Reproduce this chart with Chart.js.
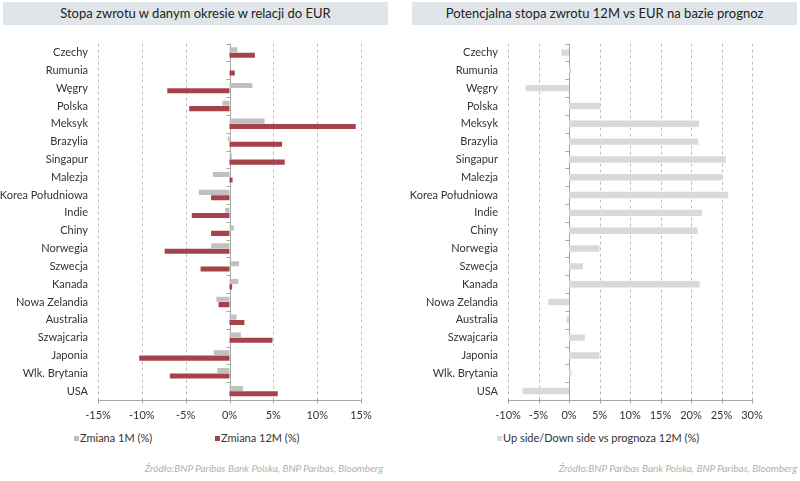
<!DOCTYPE html>
<html>
<head>
<meta charset="utf-8">
<script src="https://cdn.jsdelivr.net/npm/chart.js@4/dist/chart.umd.min.js"></script>
<style>
    body { margin: 0; width: 800px; height: 481px; background: #fff; position: relative; overflow: hidden; font-family: Lato, 'Noto Sans', sans-serif; }
    .title { position: absolute; top: 2px; height: 23px; line-height: 23px; background: #dfe5e8; color: #222; font-size: 13px; text-align: center; }
    .chartBox { position: absolute; top: 27px; width: 400px; height: 395px; }
    .legend { position: absolute; top: 431px; font-size: 11px; color: #333; white-space: nowrap; }
    .legend span.sq { display: inline-block; width: 5px; height: 5px; margin-right: 1px; vertical-align: 1px; }
    .source { position: absolute; top: 462px; font-size: 10px; font-style: italic; color: #b0b0b0; text-align: right; }
</style>
</head>
<body>
<div class="title" style="left:3px;width:385px;">Stopa zwrotu w danym okresie w relacji do EUR</div>
<div class="title" style="left:412px;width:385px;">Potencjalna stopa zwrotu 12M vs EUR na bazie prognoz</div>
<div class="chartBox" style="left:0"><canvas id="leftChart"></canvas></div>
<div class="chartBox" style="left:400px"><canvas id="rightChart"></canvas></div>
<div class="legend" id="legendLeft1" style="left:74px"></div>
<div class="legend" id="legendLeft2" style="left:215px"></div>
<div class="legend" id="legendRight" style="left:497px"></div>
<div class="source" style="left:100px;width:283px;">Źródło:BNP Paribas Bank Polska, BNP Paribas, Bloomberg</div>
<div class="source" style="left:510px;width:287px;">Źródło:BNP Paribas Bank Polska, BNP Paribas, Bloomberg</div>

<script>
// Data
const countries = ['Czechy', 'Rumunia', 'Węgry', 'Polska', 'Meksyk', 'Brazylia', 'Singapur', 'Malezja',
    'Korea Południowa', 'Indie', 'Chiny', 'Norwegia', 'Szwecja', 'Kanada', 'Nowa Zelandia', 'Australia',
    'Szwajcaria', 'Japonia', 'Wlk. Brytania', 'USA'];

const change1M = [0.9, 0.0, 2.6, -0.8, 4.0, -0.2, 0.3, -1.9, -3.5, -0.5, 0.5, -2.1, 1.1, 1.0, -1.5, 0.8, 1.3, -1.8, -1.4, 1.55];
const change12M = [2.9, 0.6, -7.1, -4.6, 14.4, 6.0, 6.3, 0.35, -2.1, -4.3, -2.1, -7.4, -3.3, 0.3, -1.25, 1.7, 4.9, -10.3, -6.8, 5.5];
const upside12M = [-1.25, 0.33, -7.1, 5.1, 21.3, 21.2, 25.7, 25.1, 26.1, 21.8, 21.1, 5.0, 2.3, 21.4, -3.4, -0.4, 2.6, 5.0, 0.4, -7.6];

const leftTicks = [-15, -10, -5, 0, 5, 10, 15];
const rightTicks = [-10, -5, 0, 5, 10, 15, 20, 25, 30];

const seriesLabels = ['Zmiana 1M (%)', 'Zmiana 12M (%)', 'Up side/Down side vs prognoza 12M (%)'];
const seriesColors = ['#c0c0c0', '#a5434b', '#d9d9d9'];

const FONT = "Lato, 'Noto Sans', sans-serif";

// dashed grid, solid zero line with small category ticks, bottom axis ticks
const gridPlugin = {
    id: 'customGrid',
    beforeDatasetsDraw(chart) {
        const { ctx, chartArea, scales } = chart;
        const xs = scales.x;
        const n = chart.data.labels.length;
        const step = (chartArea.bottom - chartArea.top) / n;
        ctx.save();
        ctx.lineWidth = 1;

        // dashed vertical grid lines
        ctx.strokeStyle = '#bdbdbd';
        ctx.setLineDash([3, 3]);
        ctx.beginPath();
        xs.ticks.forEach(t => {
            if (t.value === 0) return;
            const x = Math.round(xs.getPixelForValue(t.value)) + 0.5;
            ctx.moveTo(x, chartArea.top);
            ctx.lineTo(x, chartArea.bottom);
        });
        ctx.stroke();

        // zero line and bottom axis
        ctx.setLineDash([]);
        ctx.strokeStyle = '#a6a6a6';
        const x0 = Math.round(xs.getPixelForValue(0)) + 0.5;
        const yb = Math.round(chartArea.bottom) + 0.5;
        ctx.beginPath();
        ctx.moveTo(x0, chartArea.top);
        ctx.lineTo(x0, chartArea.bottom);
        for (let i = 0; i < n; i++) {
            const y = Math.round(chartArea.top + i * step) + 0.5;
            ctx.moveTo(x0 - 4, y);
            ctx.lineTo(x0, y);
        }
        ctx.moveTo(chartArea.left, yb);
        ctx.lineTo(chartArea.right, yb);
        xs.ticks.forEach(t => {
            const x = Math.round(xs.getPixelForValue(t.value)) + 0.5;
            ctx.moveTo(x, yb - 2);
            ctx.lineTo(x, yb + 3);
        });
        ctx.stroke();
        ctx.restore();
    }
};

function makeOptions(ticks, yWidth, padRight, catPct) {
    return {
        indexAxis: 'y',
        responsive: true,
        maintainAspectRatio: false,
        animation: false,
        layout: { padding: { top: 0, right: padRight, left: 0, bottom: 0 } },
        datasets: { bar: { categoryPercentage: catPct, barPercentage: 0.95 } },
        plugins: { legend: { display: false }, tooltip: { enabled: false } },
        scales: {
            x: {
                min: ticks[0],
                max: ticks[ticks.length - 1],
                afterBuildTicks: scale => { scale.ticks = ticks.map(v => ({ value: v })); },
                afterFit: scale => { scale.height = 22; },
                grid: { display: false },
                border: { display: false },
                ticks: {
                    color: '#333',
                    font: { family: FONT, size: 11 },
                    padding: 1,
                    maxRotation: 0,
                    minRotation: 0,
                    autoSkip: false,
                    callback: v => v + '%'
                }
            },
            y: {
                afterFit: scale => { scale.width = yWidth; },
                grid: { display: false, drawTicks: false },
                border: { display: false },
                ticks: { color: '#333', font: { family: FONT, size: 11 }, padding: 10, autoSkip: false }
            }
        }
    };
}

new Chart(document.getElementById('leftChart'), {
    type: 'bar',
    data: {
        labels: countries,
        datasets: [
            { label: seriesLabels[0], data: change1M, backgroundColor: seriesColors[0] },
            { label: seriesLabels[1], data: change12M, backgroundColor: seriesColors[1] }
        ]
    },
    options: makeOptions(leftTicks, 98, 39, 0.6),
    plugins: [gridPlugin]
});

new Chart(document.getElementById('rightChart'), {
    type: 'bar',
    data: {
        labels: countries,
        datasets: [
            { label: seriesLabels[2], data: upside12M, backgroundColor: seriesColors[2] }
        ]
    },
    options: makeOptions(rightTicks, 108, 48, 0.38),
    plugins: [gridPlugin]
});

// legends
function legendHtml(i) {
    return `<span class="sq" style="background:${seriesColors[i]}"></span>${seriesLabels[i]}`;
}
document.getElementById('legendLeft1').innerHTML = legendHtml(0);
document.getElementById('legendLeft2').innerHTML = legendHtml(1);
document.getElementById('legendRight').innerHTML = legendHtml(2);
</script>
</body>
</html>
